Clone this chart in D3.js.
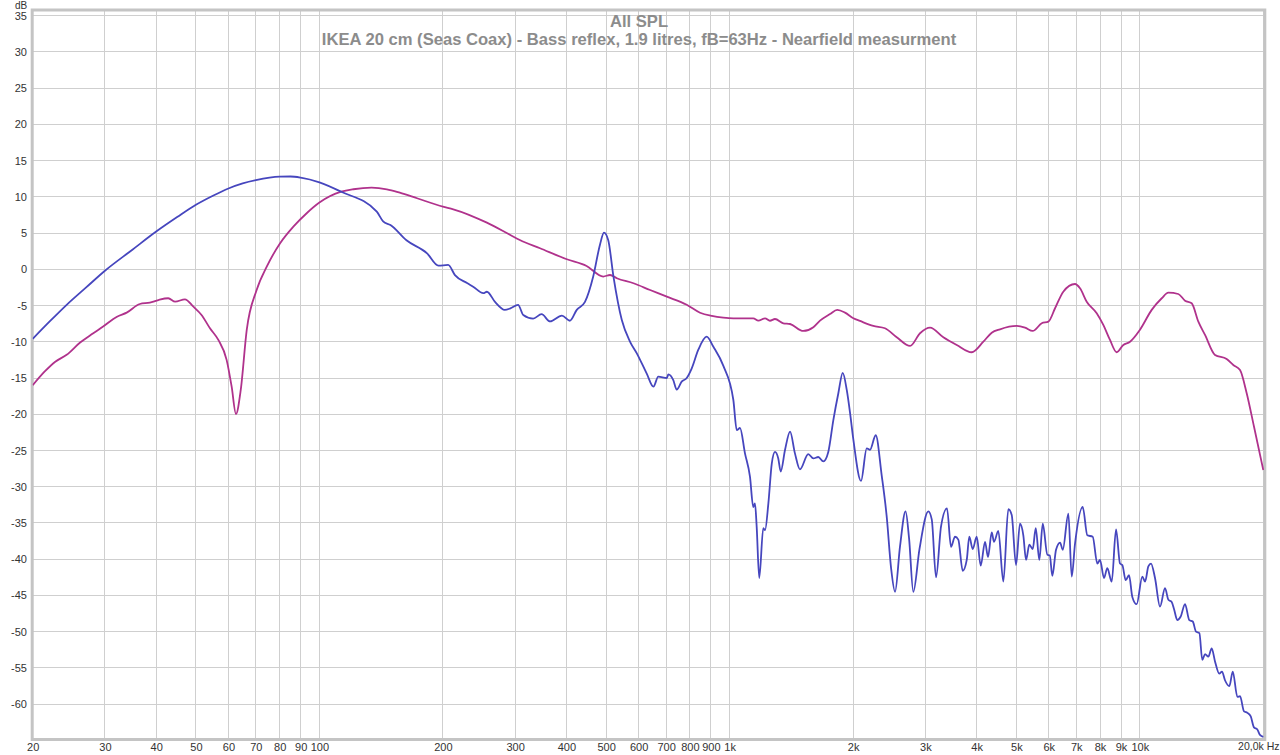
<!DOCTYPE html>
<html>
<head>
<meta charset="utf-8">
<script src="https://cdn.jsdelivr.net/npm/d3@7/dist/d3.min.js"></script>
<style>
html,body{margin:0;padding:0;background:#fff;}
svg{display:block;font-family:"Liberation Sans",Arial,sans-serif;}
</style>
</head>
<body>
<svg id="chart" width="1280" height="755"></svg>
<script>
const titleText = "All SPL";
const subtitleText = "IKEA 20 cm (Seas Coax) - Bass reflex, 1.9 litres, fB=63Hz - Nearfield measurment";

const xTickValues = [20,30,40,50,60,70,80,90,100,200,300,400,500,600,700,800,900,1000,2000,3000,4000,5000,6000,7000,8000,9000,10000,20000];
const xTickLabels = ["20","30","40","50","60","70","80","90","100","200","300","400","500","600","700","800","900","1k","2k","3k","4k","5k","6k","7k","8k","9k","10k","20,0k Hz"];
const yTickValues = [35,30,25,20,15,10,5,0,-5,-10,-15,-20,-25,-30,-35,-40,-45,-50,-55,-60];

// Blue trace: [frequency Hz, dB]
const blueSeries = [
[20,-9.6],[22,-7.2],[24.2,-4.9],[27,-2.5],[30,-0.2],[35,2.7],[40,5.2],[45,7.2],[50,8.9],[55,10.15],[60,11.15],[65,11.85],[70,12.3],[80,12.78],[85,12.8],[90,12.65],[100,12.0],
[113,10.7],[138,7.95],[143,6.6],[149,6.1],[163,4.0],[183,2.2],[195,0.5],[206,0.6],[214,-0.8],[229,-1.9],[237,-2.4],[251,-3.3],[256,-3.1],[268,-4.5],[283,-5.6],[292,-5.4],[305,-4.9],[314,-6.3],[332,-6.8],[348,-6.2],[365,-7.2],[390,-6.4],[408,-7.1],[424,-5.6],[444,-4.5],[465,-1.0],[483,3.4],[494,5.05],[506,4.0],[521,-1.0],[546,-7.0],[572,-10.0],[594,-11.6],[628,-14.4],[652,-16.2],[670,-14.8],[703,-15.0],[709,-14.5],[729,-15.3],[743,-16.6],[764,-15.5],[786,-15.0],[808,-13.7],[839,-11.1],[879,-9.3],[913,-10.7],[965,-13.3],
[1021,-18.0],[1041,-22.2],[1060,-21.9],[1090,-25.4],[1121,-28.6],[1142,-32.8],[1153,-32.3],[1164,-35.5],[1181,-42.6],[1208,-35.7],[1220,-36.0],[1243,-32.3],[1267,-26.8],[1290,-25.2],[1314,-26.1],[1332,-27.9],[1365,-24.9],[1404,-22.4],[1443,-25.4],[1484,-27.6],[1555,-25.5],[1600,-26.1],[1645,-25.9],[1692,-26.5],[1740,-25.2],[1790,-20.8],[1841,-17.1],[1887,-14.3],[1930,-16.65],[1966,-19.8],
[2003,-23.5],[2091,-29.2],[2159,-24.7],[2199,-24.9],[2271,-22.9],[2349,-28.5],[2415,-34.1],[2475,-41.2],[2531,-44.5],[2603,-38.2],[2685,-33.4],[2738,-37.1],[2804,-44.5],[2903,-38.6],[3051,-33.4],[3110,-34.5],[3186,-42.5],[3276,-35.5],[3388,-33.0],[3465,-38.3],[3544,-36.9],[3610,-37.3],[3701,-41.6],[3785,-40.1],[3840,-36.9],[3914,-38.6],[4003,-36.9],[4094,-40.9],[4194,-37.6],[4265,-39.7],[4355,-36.3],[4411,-37.6],[4519,-36.1],
[4648,-43.1],[4780,-33.1],[4872,-33.9],[4991,-40.8],[5104,-35.1],[5200,-36.7],[5280,-40.1],[5378,-38.0],[5482,-38.6],[5575,-35.7],[5689,-40.1],[5799,-35.1],[5951,-39.4],[6032,-39.5],[6120,-42.3],[6248,-38.7],[6391,-37.7],[6489,-38.7],[6696,-33.7],[6823,-42.4],[6950,-37.9],[7257,-32.8],[7447,-36.7],[7676,-36.9],[7877,-40.6],[7998,-40.1],[8178,-42.6],[8332,-41.25],[8541,-43.1],[8750,-35.9],[8948,-40.6],[9065,-40.8],[9239,-42.9],[9413,-42.2],[9588,-45.2],[9826,-46.2],
[10140,-42.4],[10300,-43.1],[10490,-41.0],[10650,-40.6],[10890,-42.6],[11200,-46.55],[11520,-44.0],[11740,-45.6],[11960,-45.9],[12120,-46.9],[12340,-48.4],[12580,-47.9],[12890,-46.2],[13200,-48.4],[13460,-48.6],[13710,-50.0],[13970,-50.2],[14200,-53.9],[14420,-53.1],[14690,-53.45],[14970,-52.3],[15250,-54.1],[15620,-55.8],[15860,-55.5],[16130,-56.7],[16530,-57.5],[16850,-55.5],[17290,-59.0],[17550,-58.9],[17950,-61.0],[18290,-61.2],[18640,-61.7],[18980,-63.2],[19340,-63.5],[19630,-64.25],[20000,-64.5]
];

// Magenta trace: [frequency Hz, dB]
const magentaSeries = [
[20,-16.0],[21.4,-14.1],[22.7,-12.75],[24.2,-11.8],[26.1,-10.1],[28.1,-8.83],[29.7,-7.9],[32.1,-6.54],[33.9,-5.98],[36.5,-4.79],[38.6,-4.6],[40.5,-4.24],[42.8,-4.0],[44.5,-4.47],[47.0,-4.14],[49.3,-5.16],[51.6,-6.3],[54.1,-8.14],[56.7,-9.75],[59.4,-12.5],[61.1,-16.2],[62.6,-19.96],[64.3,-16.65],[66.5,-8.37],[70.3,-2.86],[74.4,0.36],[80.2,3.59],[86.4,5.88],[93.1,7.73],[100,9.2],
[113,10.7],[121,11.04],[134,11.26],[146,11.04],[157,10.57],[173,9.8],[200,8.64],[212,8.28],[256,6.43],[292,4.73],[308,4.04],[345,2.9],[401,1.38],[448,0.46],[492,-1.0],[511,-0.79],[531,-1.24],[583,-1.93],[640,-2.86],[703,-3.78],[786,-4.9],[847,-6.0],[905,-6.44],[965,-6.67],
[1021,-6.76],[1070,-6.76],[1142,-6.76],[1175,-7.09],[1220,-6.76],[1254,-7.1],[1290,-6.86],[1352,-7.45],[1404,-7.55],[1512,-8.51],[1600,-8.0],[1661,-7.09],[1757,-6.17],[1830,-5.6],[1911,-5.98],[2003,-6.76],[2079,-7.13],[2240,-7.82],[2392,-8.14],[2555,-9.38],[2754,-10.58],[2912,-8.83],[3080,-8.05],[3319,-9.38],[3578,-10.44],[3892,-11.45],[4155,-9.99],[4355,-8.75],[4563,-8.28],
[5011,-7.82],[5250,-8.05],[5482,-8.51],[5767,-7.45],[5984,-7.23],[6214,-5.38],[6508,-3.09],[6950,-2.03],[7148,-2.62],[7422,-4.47],[7851,-6.07],[8147,-7.68],[8458,-9.75],[8782,-11.45],[9116,-10.44],[9465,-9.99],
[10000,-8.37],[10690,-5.6],[11310,-4.0],[11740,-3.23],[12410,-3.41],[12890,-4.33],[13380,-4.69],[13890,-7.23],[14420,-9.06],[15250,-11.82],[16280,-12.38],[16900,-13.2],[17550,-13.9],[18220,-17.1],[18980,-21.7],[20000,-27.7]
];

const svg = d3.select("#chart");
const plot = {left:32.7, right:1263.3, top:10, bottom:739.5};

const x = d3.scaleLog().domain([20,20000]).range([32.7,1263.3]);
const y = d3.scaleLinear().domain([-65,35]).range([740.4,15.6]);

// grid
const grid = svg.append("g");
grid.selectAll("line.v").data(xTickValues).enter().append("line")
  .attr("x1",d=>x(d)).attr("x2",d=>x(d)).attr("y1",plot.top).attr("y2",plot.bottom)
  .attr("stroke","#cfcfcf").attr("stroke-width",1).attr("shape-rendering","crispEdges");
grid.selectAll("line.h").data(yTickValues).enter().append("line")
  .attr("x1",plot.left).attr("x2",plot.right).attr("y1",d=>y(d)).attr("y2",d=>y(d))
  .attr("stroke","#cfcfcf").attr("stroke-width",1).attr("shape-rendering","crispEdges");

// y axis labels
const yAxis = d3.axisLeft(y).tickValues(yTickValues).tickSize(0).tickPadding(5).tickFormat(d=>String(d));
const gy = svg.append("g").attr("transform","translate(32,0)").call(yAxis);
gy.select(".domain").remove();
gy.selectAll("text").attr("font-size",11).attr("fill","#333").attr("font-family","Liberation Sans, Arial, sans-serif");

// x axis labels
const xAxis = d3.axisBottom(x).tickValues(xTickValues).tickSize(0).tickPadding(3).tickFormat((d,i)=>xTickLabels[i]);
const gx = svg.append("g").attr("transform","translate(0,740)").call(xAxis);
gx.select(".domain").remove();
gx.selectAll("text").attr("font-size",11).attr("fill","#333").attr("font-family","Liberation Sans, Arial, sans-serif");
gx.selectAll(".tick").filter(d=>d===20000).select("text")
  .attr("text-anchor","end").attr("x",1279 - x(20000)).attr("font-size",10.5);

svg.append("text").attr("x",15).attr("y",9).attr("font-size",10).attr("fill","#333").text("dB");

// frame
svg.append("rect").attr("x",plot.left-0.5).attr("y",plot.top).attr("width",plot.right-plot.left+2).attr("height",plot.bottom-plot.top)
  .attr("fill","none").attr("stroke","#c4c4c4").attr("stroke-width",3);

// clip
svg.append("clipPath").attr("id","clip").append("rect")
  .attr("x",plot.left).attr("y",plot.top).attr("width",plot.right-plot.left+1).attr("height",plot.bottom-plot.top);

const line = d3.line().x(d=>x(d[0])).y(d=>y(d[1])).curve(d3.curveMonotoneX);
const lines = svg.append("g").attr("clip-path","url(#clip)");
lines.append("path").datum(magentaSeries).attr("d",line).attr("fill","none").attr("stroke","#b0328c").attr("stroke-width",1.8).attr("stroke-linejoin","round");
lines.append("path").datum(blueSeries).attr("d",line).attr("fill","none").attr("stroke","#4646be").attr("stroke-width",1.8).attr("stroke-linejoin","round");

// titles
svg.append("text").attr("x",639).attr("y",27).attr("text-anchor","middle").attr("font-size",16.6).attr("font-weight","bold").attr("fill","#8c8c8c").text(titleText);
svg.append("text").attr("x",639).attr("y",45).attr("text-anchor","middle").attr("font-size",16.6).attr("font-weight","bold").attr("fill","#8c8c8c").text(subtitleText);
</script>
</body>
</html>
